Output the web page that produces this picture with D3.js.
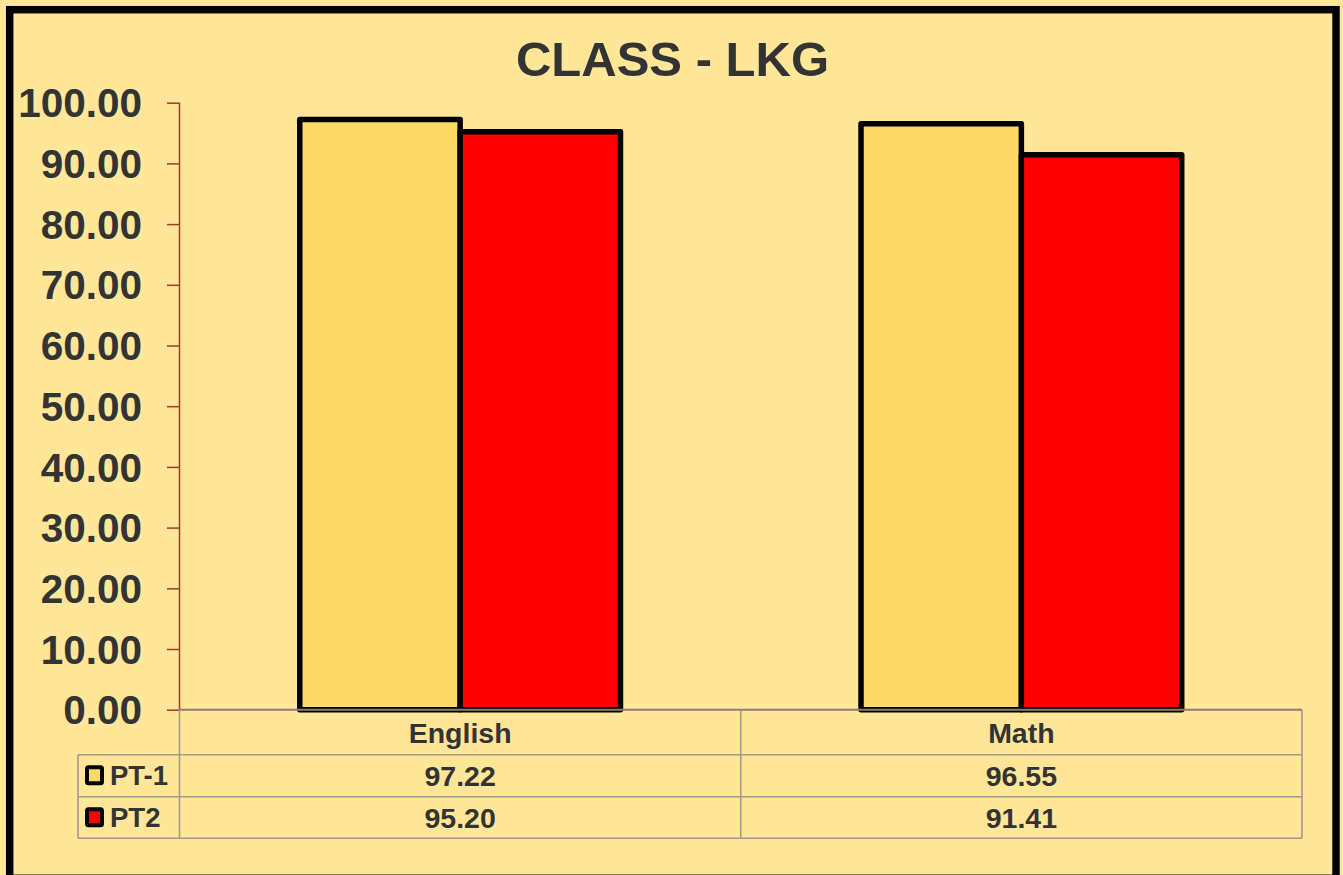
<!DOCTYPE html>
<html>
<head>
<meta charset="utf-8">
<script src="https://cdn.jsdelivr.net/npm/d3@7"></script>
<style>
  html, body { margin: 0; padding: 0; background: #FFE699; overflow: hidden; }
  svg { display: block; }
  text { font-family: "Liberation Sans", Arial, sans-serif; font-weight: bold; fill: #333333; }
</style>
</head>
<body>
<svg id="chart" width="1343" height="875"></svg>
<script>
const title = "CLASS - LKG";
const categories = ["English", "Math"];
const seriesNames = ["PT-1", "PT2"];
const pt1Values = [97.22, 96.55];
const pt2Values = [95.20, 91.41];
const seriesColors = ["#FFD966", "#FF0000"];
const yTicks = [0, 10, 20, 30, 40, 50, 60, 70, 80, 90, 100];

const seriesValues = [pt1Values, pt2Values];

const svg = d3.select("#chart");
const W = 1343, H = 875;

// layout
const plotLeft = 179.5, plotRight = 1302, plotTop = 102.7, plotBottom = 709.7;
const rowH = [45, 42, 41.6];
const legendLeft = 78;

// background
svg.append("rect").attr("x", 0).attr("y", 0).attr("width", W).attr("height", H).attr("fill", "#FFE699");

const y = d3.scaleLinear().domain([0, 100]).range([plotBottom, plotTop]);
const x = d3.scaleBand().domain(categories).range([plotLeft, plotRight]).paddingInner(0).paddingOuter(0);
const bw = x.bandwidth();
const gap = bw * 1.5 / 3.5 / 2;
const xs = d3.scaleBand().domain(seriesNames).range([gap, bw - gap]).padding(0);

// title
svg.append("text")
  .attr("x", 672.5).attr("y", 76)
  .attr("text-anchor", "middle")
  .style("font-size", "49px")
  .text(title);

// y axis
const yAxis = d3.axisLeft(y).tickValues(yTicks).tickSize(12.5).tickFormat(d3.format(".2f"));
const gy = svg.append("g").attr("transform", `translate(${plotLeft},0)`).call(yAxis);
gy.select(".domain").attr("stroke", "#A33A22").attr("stroke-width", 1.5).attr("d", `M0,${plotTop}V${plotBottom}`);
gy.selectAll(".tick line").attr("stroke", "#A33A22").attr("stroke-width", 1.5);
gy.selectAll(".tick text")
  .attr("x", -37.5)
  .attr("dy", "0.35em")
  .style("font-size", "40.5px")
  .style("font-family", "'Liberation Sans', Arial, sans-serif")
  .style("font-weight", "bold")
  .attr("fill", "#333333");

// bars
const flat = [];
categories.forEach((c, i) => seriesNames.forEach((s, j) => flat.push({ c, s, j, v: seriesValues[j][i] })));
svg.append("g").selectAll("rect").data(flat).join("rect")
  .attr("x", d => x(d.c) + xs(d.s))
  .attr("y", d => y(d.v))
  .attr("width", xs.bandwidth())
  .attr("height", d => y(0) - y(d.v))
  .attr("fill", d => seriesColors[d.j])
  .attr("stroke", "#000")
  .attr("stroke-width", 5.5)
  .attr("stroke-linejoin", "round");

// data table
const gridColor = "#A09A90";
const tg = svg.append("g");
const r0 = plotBottom, r1 = r0 + rowH[0], r2 = r1 + rowH[1], r3 = r2 + rowH[2];
const line = (x1, y1, x2, y2, c, w) => tg.append("line").attr("x1", x1).attr("y1", y1).attr("x2", x2).attr("y2", y2)
  .attr("stroke", c || gridColor).attr("stroke-width", w || 1.6);
line(plotLeft, r0, plotRight, r0, "#8C7F70", 2);
line(legendLeft, r1, plotRight, r1);
line(legendLeft, r2, plotRight, r2);
line(legendLeft, r3, plotRight, r3);
line(legendLeft, r1, legendLeft, r3);
line(plotLeft, r0, plotLeft, r3);
categories.forEach((c, i) => { if (i > 0) line(x(c), r0, x(c), r3); });
line(plotRight, r0, plotRight, r3);

// header
tg.selectAll("text.cat").data(categories).join("text").attr("class", "cat")
  .attr("x", d => x(d) + bw / 2).attr("y", r0 + 33)
  .attr("text-anchor", "middle").style("font-size", "28.5px")
  .text(d => d);

// value rows
const rowsY = [r1, r2];
seriesNames.forEach((s, j) => {
  tg.selectAll(`text.v${j}`).data(categories).join("text").attr("class", `v${j}`)
    .attr("x", d => x(d) + bw / 2).attr("y", rowsY[j] + 31)
    .attr("text-anchor", "middle").style("font-size", "28.5px")
    .text((d, i) => d3.format(".2f")(seriesValues[j][i]));
  // legend key
  tg.append("rect")
    .attr("x", 87).attr("y", rowsY[j] + 12.5)
    .attr("width", 15).attr("height", 16)
    .attr("fill", seriesColors[j]).attr("stroke", "#000").attr("stroke-width", 4).attr("rx", 1.5);
  tg.append("text")
    .attr("x", 110).attr("y", rowsY[j] + 30.5)
    .style("font-size", "27.5px")
    .text(s);
});

// outer border
svg.append("rect")
  .attr("x", 9.7).attr("y", 9.7)
  .attr("width", 1326.3).attr("height", 868.6)
  .attr("fill", "none").attr("stroke", "#000").attr("stroke-width", 7.5);
</script>
</body>
</html>
